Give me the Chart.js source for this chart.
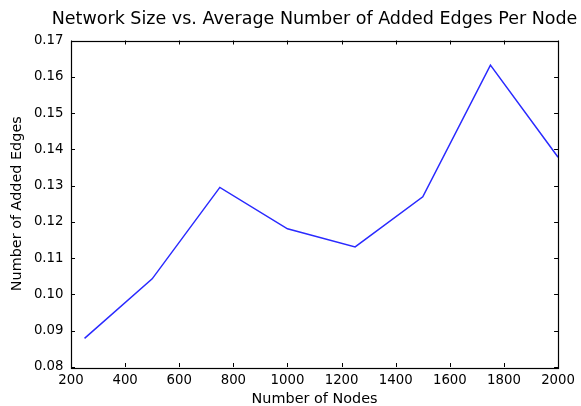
<!DOCTYPE html>
<html>
<head>
<meta charset="utf-8">
<script src="https://cdn.jsdelivr.net/npm/chart.js@4/dist/chart.umd.min.js"></script>
<style>
  html, body { margin: 0; padding: 0; background: #fff; }
  #wrap { width: 581px; height: 406px; }
</style>
</head>
<body>
<div id="wrap"><canvas id="c" width="581" height="406"></canvas></div>
<script>
// Network size (number of nodes) and the average number of added edges per node
const nodes = [250, 500, 750, 1000, 1250, 1500, 1750, 2000];
const addedEdges = [0.0879, 0.1043, 0.1295, 0.1181, 0.1131, 0.1269, 0.1632, 0.1378];

// Axis tick positions
const xTicks = [200, 400, 600, 800, 1000, 1200, 1400, 1600, 1800, 2000];
const yTicks = [0.08, 0.09, 0.10, 0.11, 0.12, 0.13, 0.14, 0.15, 0.16, 0.17];

const TITLE = 'Network Size vs. Average Number of Added Edges Per Node';
const FONT = "'DejaVu Sans', sans-serif";
Chart.defaults.font.family = FONT;
Chart.defaults.color = '#000';

// Title centred over the plot area (allowed to run wider than the plot)
const plotTitle = {
  id: 'plotTitle',
  afterDraw(chart) {
    const { ctx, chartArea: a } = chart;
    ctx.save();
    ctx.font = '17.5px ' + FONT;
    ctx.fillStyle = '#000';
    ctx.textAlign = 'center';
    ctx.textBaseline = 'alphabetic';
    ctx.fillText(TITLE, (a.left + a.right) / 2, 24);
    ctx.restore();
  }
};

// Draws the closed frame with inward tick marks on all four sides
const frameTicks = {
  id: 'frameTicks',
  afterDatasetsDraw(chart) {
    const { ctx, chartArea: a, scales } = chart;
    const len = 4;
    ctx.save();
    ctx.strokeStyle = '#000';
    ctx.lineWidth = 1;
    ctx.beginPath();
    scales.x.ticks.forEach(t => {
      const px = Math.round(scales.x.getPixelForValue(t.value)) + 0.5;
      ctx.moveTo(px, a.bottom); ctx.lineTo(px, a.bottom - len);
      ctx.moveTo(px, a.top); ctx.lineTo(px, a.top + len);
    });
    scales.y.ticks.forEach(t => {
      const py = Math.round(scales.y.getPixelForValue(t.value)) + 0.5;
      ctx.moveTo(a.left, py); ctx.lineTo(a.left + len, py);
      ctx.moveTo(a.right, py); ctx.lineTo(a.right - len, py);
    });
    ctx.stroke();
    ctx.lineWidth = 1.2;
    ctx.strokeRect(Math.round(a.left) + 0.5, Math.round(a.top) + 0.5,
                   Math.round(a.right - a.left), Math.round(a.bottom - a.top));
    ctx.restore();
  }
};

new Chart(document.getElementById('c'), {
  type: 'line',
  data: {
    datasets: [{
      data: nodes.map((n, i) => ({ x: n, y: addedEdges[i] })),
      borderColor: '#2a2aff',
      borderWidth: 1.5,
      pointRadius: 0,
      tension: 0,
      fill: false
    }]
  },
  options: {
    responsive: false,
    animation: false,
    devicePixelRatio: 1,
    layout: { padding: { top: 40.5, right: 19, bottom: 0, left: 0 } },
    plugins: {
      legend: { display: false },
      tooltip: { enabled: false },
      title: { display: false }
    },
    scales: {
      x: {
        type: 'linear',
        min: 200,
        max: 2000,
        afterFit(s) { s.height = 39; },
        afterBuildTicks(s) { s.ticks = xTicks.map(v => ({ value: v })); },
        grid: { display: false, drawTicks: false },
        border: { display: false },
        ticks: {
          padding: 6,
          maxRotation: 0,
          autoSkip: false,
          font: { size: 13.3 },
          callback: v => String(v)
        },
        title: {
          display: true,
          text: 'Number of Nodes',
          font: { size: 14.4, lineHeight: 1.0 },
          padding: { top: 0, bottom: 0 }
        }
      },
      y: {
        type: 'linear',
        min: 0.08,
        max: 0.17,
        afterFit(s) { s.width = 71; },
        afterBuildTicks(s) { s.ticks = yTicks.map(v => ({ value: v })); },
        grid: { display: false, drawTicks: false },
        border: { display: false },
        ticks: {
          padding: 7.5,
          autoSkip: false,
          font: { size: 13.3 },
          callback: v => Number(v).toFixed(2)
        },
        title: {
          display: true,
          text: 'Number of Added Edges',
          font: { size: 14.4 },
          padding: { top: 8.85, bottom: 0 }
        }
      }
    }
  },
  plugins: [frameTicks, plotTitle]
});
</script>
</body>
</html>
